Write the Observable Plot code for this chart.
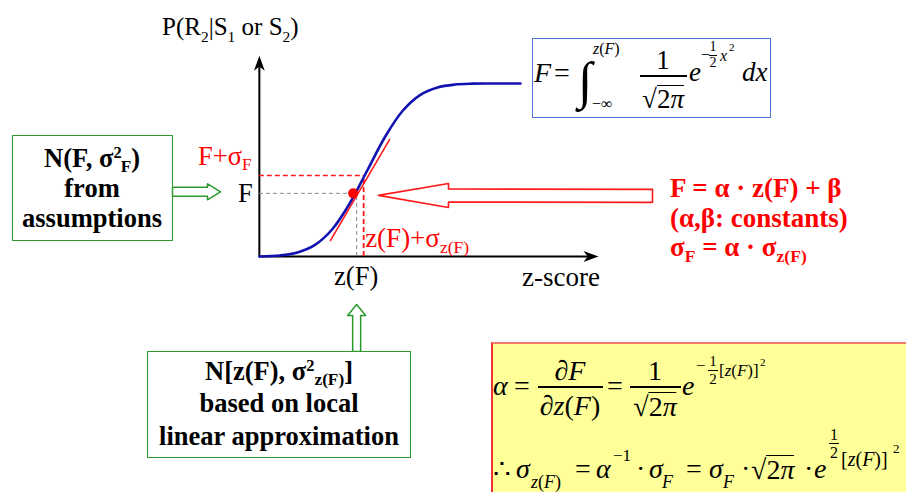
<!DOCTYPE html>
<html><head><meta charset="utf-8">
<script src="https://cdn.jsdelivr.net/npm/d3@7"></script>
<script src="https://cdn.jsdelivr.net/npm/@observablehq/plot@0.6"></script>
<style>
html,body{margin:0;padding:0;background:#fff;}
#wrap{position:relative;width:906px;height:492px;overflow:hidden;color:#000;font-family:"Liberation Serif","Times New Roman",serif;}
#wrap svg{position:absolute;left:0;top:0;}
.t{position:absolute;white-space:nowrap;line-height:1;}
.sub{font-size:0.62em;position:relative;top:0.42em;}
.sub2{font-size:0.65em;position:relative;top:0.3em;}
.sup{font-size:0.62em;position:relative;top:-0.55em;}
.box{position:absolute;box-sizing:border-box;}
.i{font-style:italic;}
.ol{border-top:1.4px solid #000;display:inline-block;line-height:1;padding-top:0px;}
.bar{position:absolute;background:#000;}
</style>
</head><body>
<div id="wrap"></div>
<script>
const W = 906, H = 492;

// Sigmoid curve: z-score vs. probability P(R2|S1 or S2)
const curveZ = [-3.09, -2.5, -2.0, -1.5, -1.0, -0.5, 0.0, 0.5, 1.0, 1.5, 2.0, 2.5, 3.0, 3.5, 4.37];
const curveP = [0.0, 0.006, 0.023, 0.067, 0.159, 0.309, 0.5, 0.691, 0.841, 0.933, 0.977, 0.994, 0.999, 1.0, 1.0];

// Operating point F at z(F) and the one-sigma offsets
const pointZ = [-0.31];          // z(F)
const pointP = [0.365];          // F
const sigmaZ = [-0.11];          // z(F) + sigma_z(F)
const sigmaP = [0.468];          // F + sigma_F

// Local linear approximation (tangent segment)
const tangentZ = [-1.06, 0.63];
const tangentP = [0.092, 0.676];

// Axis extents (z-score axis and probability axis)
const axisZ = [-3.09, 6.6];
const axisP = [0, 1.16];

// Text
const yTitle = 'P(R<span class="sub">2</span>|S<span class="sub">1</span> or S<span class="sub">2</span>)';
const xTitle = 'z-score';
const fLabel = 'F';
const zLabel = 'z(F)';
const fSigLabel = 'F+σ<span class="sub2">F</span>';
const zSigLabel = 'z(F)+σ<span class="sub2">z(F)</span>';
const leftBoxLines = ['N(F, σ<span class="sup">2</span><span class="sub2" style="margin-left:-1px">F</span>)', 'from', 'assumptions'];
const bottomBoxLines = ['N[z(F), σ<span class="sup">2</span><span class="sub2">z(F)</span>]', 'based on local', 'linear approximation'];
const redLines = ['F = α · z(F) + β', '(α,β: constants)', 'σ<span class="sub2">F</span> = α · σ<span class="sub2">z(F)</span>'];

// Scales (shared by Plot and the annotation geometry)
const xDomain = [-367 / 35, (W - 367) / 35];
const yDomain = [(256 - H) / 173, 256 / 173];
const xs = d3.scaleLinear(xDomain, [0, W]);
const ys = d3.scaleLinear(yDomain, [H, 0]);

const curve = curveZ.map((z, i) => ({z, p: curveP[i]}));
const point = pointZ.map((z, i) => ({z, p: pointP[i]}));
const sigma = sigmaZ.map((z, i) => ({z, p: sigmaP[i]}));
const tangent = tangentZ.map((z, i) => ({z, p: tangentP[i]}));

function hollowArrow(tail, tip, sh, hh, hl) {
  const dx = tip[0] - tail[0], dy = tip[1] - tail[1], len = Math.hypot(dx, dy);
  const ux = dx / len, uy = dy / len, nx = -uy, ny = ux;
  const bx = tip[0] - ux * hl, by = tip[1] - uy * hl;
  const pts = [
    [tail[0] + nx * sh, tail[1] + ny * sh],
    [bx + nx * sh, by + ny * sh],
    [bx + nx * hh, by + ny * hh],
    tip,
    [bx - nx * hh, by - ny * hh],
    [bx - nx * sh, by - ny * sh],
    [tail[0] - nx * sh, tail[1] - ny * sh]
  ];
  pts.push(pts[0]);
  return pts.map(([px, py]) => ({z: xs.invert(px), p: ys.invert(py)}));
}
const Fy = ys(pointP[0]);
const redArrow = hollowArrow([652, Fy + 2.5], [378, Fy + 2], 6.5, 12, 70);
const greenLeft = hollowArrow([172, Fy - 1.5], [220, Fy - 1.5], 4.5, 8, 13);
const greenUp = hollowArrow([xs(pointZ[0]), 351], [xs(pointZ[0]), 304], 4, 9, 11);

const stealth = {draw(ctx, size) {
  const s = Math.sqrt(size / Math.PI);
  ctx.moveTo(0, 0);
  ctx.lineTo(s * 0.36, s);
  ctx.lineTo(0, s * 0.72);
  ctx.lineTo(-s * 0.36, s);
  ctx.closePath();
}};

const chart = Plot.plot({
  width: W, height: H,
  margin: 0,
  x: {domain: xDomain, axis: null},
  y: {domain: yDomain, axis: null},
  marks: [
    Plot.ruleY([0], {x1: axisZ[0], x2: axisZ[1] - 0.2, stroke: "#000", strokeWidth: 2}),
    Plot.ruleX([axisZ[0]], {y1: 0, y2: axisP[1] - 0.04, stroke: "#000", strokeWidth: 2}),
    Plot.dot([{z: axisZ[1], p: 0}], {x: "z", y: "p", symbol: stealth, r: 15, fill: "#000", stroke: "none", rotate: 90}),
    Plot.dot([{z: axisZ[0], p: axisP[1]}], {x: "z", y: "p", symbol: stealth, r: 15, fill: "#000", stroke: "none"}),
    Plot.ruleY(point, {y: "p", x1: axisZ[0], x2: "z", stroke: "#888", strokeWidth: 1, strokeDasharray: "4,3"}),
    Plot.ruleX(point, {x: "z", y1: 0, y2: "p", stroke: "#888", strokeWidth: 1, strokeDasharray: "4,3"}),
    Plot.ruleY(sigma, {y: "p", x1: axisZ[0], x2: "z", stroke: "#ff1a1a", strokeWidth: 1.6, strokeDasharray: "5,3"}),
    Plot.ruleX(sigma, {x: "z", y1: 0, y2: "p", stroke: "#ff1a1a", strokeWidth: 1.8, strokeDasharray: "5,3"}),
    Plot.line(curve, {x: "z", y: "p", curve: "catmull-rom", stroke: "#1212b0", strokeWidth: 2.6}),
    Plot.line(tangent, {x: "z", y: "p", stroke: "#ff1a1a", strokeWidth: 1.6}),
    Plot.dot(point, {x: d => d.z - 0.1, y: "p", r: 5, fill: "#ff0000", stroke: "none"}),
    Plot.line(redArrow, {x: "z", y: "p", stroke: "#ff1a1a", strokeWidth: 1.6, fill: "#fff", curve: "linear"}),
    Plot.line(greenLeft, {x: "z", y: "p", stroke: "#2a9a2a", strokeWidth: 1.5, fill: "#fff", curve: "linear"}),
    Plot.line(greenUp, {x: "z", y: "p", stroke: "#2a9a2a", strokeWidth: 1.5, fill: "#fff", curve: "linear"})
  ]
});

const wrap = document.getElementById("wrap");
wrap.appendChild(chart);
const X = v => chart.scale("x").apply(v);
const Y = v => chart.scale("y").apply(v);

function label(html, x, base, size, o = {}) {
  const d = document.createElement("div");
  d.className = "t";
  d.innerHTML = html;
  d.style.fontSize = size + "px";
  d.style.top = (base - 0.8375 * size) + "px";
  if (o.anchor === "middle") { d.style.left = x + "px"; d.style.transform = "translateX(-50%)"; }
  else if (o.anchor === "end") { d.style.right = (W - x) + "px"; }
  else d.style.left = x + "px";
  if (o.color) d.style.color = o.color;
  if (o.bold) d.style.fontWeight = "bold";
  if (o.italic) d.style.fontStyle = "italic";
  wrap.appendChild(d);
  return d;
}
function box(x, y, w, h, style) {
  const d = document.createElement("div");
  d.className = "box";
  Object.assign(d.style, {left: x + "px", top: y + "px", width: w + "px", height: h + "px"}, style);
  wrap.appendChild(d);
  return d;
}
function bar(x1, x2, y, w = 1.4) {
  const d = document.createElement("div");
  d.className = "bar";
  Object.assign(d.style, {left: x1 + "px", top: (y - w / 2) + "px", width: (x2 - x1) + "px", height: w + "px"});
  wrap.appendChild(d);
}
const I = s => `<span class="i">${s}</span>`;
const sqrt2pi = `√<span class="ol">2${I("π")}</span>`;

// axis texts
label(yTitle, 162, 35, 25);
label(xTitle, 522, 287, 27);
label(fLabel, X(axisZ[0]) - 6, Y(pointP[0]) + 9, 26.5, {anchor: "end"});
label(zLabel, X(pointZ[0]), 285, 26.5, {anchor: "middle"});
label(fSigLabel, 198, Y(sigmaP[0]) - 10, 26.5, {color: "#ff0000"});
label(zSigLabel, X(sigmaZ[0]) + 2, 248, 27, {color: "#ff0000"});

// boxes
box(12, 135, 161, 106, {border: "1.5px solid #2f9a2f"});
leftBoxLines.forEach((s, i) => label(s, 92, 167 + i * 30, 26.5, {anchor: "middle", bold: true}));
box(147, 351, 264, 107, {border: "1.5px solid #2f9a2f", background: "#fff"});
bottomBoxLines.forEach((s, i) => label(s, 279, 380 + i * 32.5, 26.5, {anchor: "middle", bold: true}));
redLines.forEach((s, i) => label(s, 670, 198 + i * 29.5, 27, {bold: true, color: "#ff0000"}));

// blue formula box: F = ∫ 1/√(2π) e^{-x²/2} dx
box(532, 38, 239, 80, {border: "1.5px solid #4f74d4", background: "#fff"});
label(I("F"), 534, 82, 28);
label("=", 554, 82, 28);
label("∫", 578, 99, 52);
label(I("z") + "(" + I("F") + ")", 593, 54, 16);
label("−∞", 592, 109, 16);
label("1", 663, 70, 27, {anchor: "middle"});
bar(640, 687, 76);
label(sqrt2pi, 663, 108, 27, {anchor: "middle"});
label(I("e"), 689, 82, 27);
label("−", 701, 60, 16);
label("1", 713, 52, 14, {anchor: "middle"});
bar(709, 717, 55, 1);
label("2", 713, 68, 14, {anchor: "middle"});
label(I("x"), 720, 61, 16);
label("2", 729, 51, 11);
label(I("dx"), 742, 82, 27);

// yellow derivation box
box(491, 342, 430, 170, {borderLeft: "2.5px solid #ee3333", borderTop: "2.5px solid #f47a6a", background: "#ffff99"});
// line 1: α = ∂F/∂z(F) = 1/√(2π) e^{-½[z(F)]²}
label(I("α"), 493, 395, 28);
label("=", 514, 395, 28);
label(I("∂F"), 570, 380, 28, {anchor: "middle"});
bar(538, 603, 387);
label(I("∂z") + "(" + I("F") + ")", 570, 415, 28, {anchor: "middle"});
label("=", 607, 395, 28);
label("1", 655, 380, 28, {anchor: "middle"});
bar(630, 681, 387);
label(sqrt2pi, 655, 415, 28, {anchor: "middle"});
label(I("e"), 682, 395, 28);
label("−", 696, 371, 17);
label("1", 713, 367, 15, {anchor: "middle"});
bar(708, 718, 370, 1);
label("2", 713, 385, 15, {anchor: "middle"});
label("[" + I("z") + "(" + I("F") + ")]", 719, 376, 17);
label("2", 760, 366, 11);
// line 2: ∴ σ_z(F) = α^-1 · σ_F = σ_F · √(2π) · e^{½[z(F)]²}
label("∴", 493, 478, 28);
label(I("σ"), 516, 478, 28);
label(I("z") + "(" + I("F") + ")", 531, 488, 18);
label("=", 575, 478, 28);
label(I("α"), 596, 478, 28);
label("−1", 613, 461, 17);
label("·", 636, 478, 28);
label(I("σ"), 649, 478, 28);
label(I("F"), 662, 488, 18);
label("=", 686, 478, 28);
label(I("σ"), 709, 478, 28);
label(I("F"), 723, 488, 18);
label("·", 741, 478, 28);
label(sqrt2pi, 751, 478, 28);
label("·", 804, 478, 28);
label(I("e"), 814, 478, 28);
label("1", 834, 440, 16, {anchor: "middle"});
bar(829, 839, 443, 1);
label("2", 834, 458, 16, {anchor: "middle"});
label("[" + I("z") + "(" + I("F") + ")]", 841, 466, 20);
label("2", 893, 453, 13);
</script>
</body></html>
